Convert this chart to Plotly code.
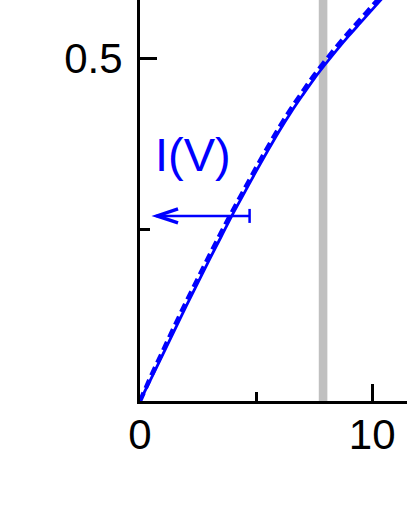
import plotly.graph_objects as go

# bias (x axis) and current values
voltage = [0, 0.5, 1, 1.5, 2, 2.5, 3, 3.5, 4, 4.5, 5, 5.5, 6, 6.5, 7, 7.5, 8, 8.5, 9, 9.5, 10, 10.5, 11]
current_measured = [0, 0.034, 0.069, 0.104, 0.139, 0.173, 0.207, 0.240, 0.273, 0.304, 0.335, 0.365,
                    0.394, 0.421, 0.446, 0.470, 0.492, 0.513, 0.533, 0.552, 0.571, 0.590, 0.609]
current_model = [0, 0.038, 0.074, 0.110, 0.145, 0.179, 0.213, 0.246, 0.278, 0.309, 0.340, 0.370,
                 0.399, 0.426, 0.451, 0.475, 0.497, 0.518, 0.538, 0.557, 0.576, 0.595, 0.614]

x_ticks = [0, 10]
x_tick_labels = ['0', '10']
y_ticks = [0.5]
y_tick_labels = ['0.5']

band_x = [7.7, 8.07]          # gray marker band
arrow_y = 0.270
arrow_tip_x = 0.69
arrow_tail_x = 4.72
label_x = 0.56
label_y = 0.36

BLUE = '#0000ff'
FONT = 'Liberation Sans, Arial, sans-serif'

fig = go.Figure()

fig.add_vrect(x0=band_x[0], x1=band_x[1], fillcolor='#c0c0c0', opacity=1,
              line_width=0, layer='below')

fig.add_trace(go.Scatter(
    x=voltage, y=current_model, mode='lines',
    line=dict(color=BLUE, width=4.5, dash='9px,5px', shape='spline'),
    showlegend=False, hoverinfo='skip'
))
fig.add_trace(go.Scatter(
    x=voltage, y=current_measured, mode='lines',
    line=dict(color=BLUE, width=2.8, shape='spline'),
    showlegend=False, hoverinfo='skip'
))

# arrow pointing to the left axis
fig.add_shape(type='line', x0=arrow_tail_x, x1=arrow_tip_x, y0=arrow_y, y1=arrow_y,
              line=dict(color=BLUE, width=2.5))
fig.add_shape(type='path', xsizemode='pixel', ysizemode='pixel',
              xanchor=arrow_tip_x, yanchor=arrow_y,
              path='M22,7 L1,0 L22,-7', line=dict(color=BLUE, width=3.5))
fig.add_shape(type='path', xsizemode='pixel', ysizemode='pixel',
              xanchor=arrow_tail_x, yanchor=arrow_y,
              path='M0,-7 L0,7', line=dict(color=BLUE, width=2.5))

fig.add_annotation(x=label_x, y=label_y, text='I(V)', showarrow=False,
                   xanchor='left', yanchor='middle',
                   font=dict(family=FONT, size=47, color=BLUE))

fig.update_layout(
    width=407, height=527,
    margin=dict(l=140, r=0, t=0, b=126),
    plot_bgcolor='white', paper_bgcolor='white',
    font=dict(family=FONT, size=42, color='black'),
    showlegend=False,
    xaxis=dict(
        range=[0, 11.5], showgrid=False, zeroline=False,
        showline=True, linecolor='black', linewidth=3,
        tickmode='array', tickvals=x_ticks, ticktext=x_tick_labels,
        ticks='inside', ticklen=17, tickwidth=3, tickcolor='black',
        ticklabelstandoff=-5,
        minor=dict(dtick=5, ticks='inside', ticklen=9, tickwidth=3, tickcolor='black', showgrid=False),
    ),
    yaxis=dict(
        range=[0, 0.585], showgrid=False, zeroline=False,
        showline=True, linecolor='black', linewidth=3,
        tickmode='array', tickvals=y_ticks, ticktext=y_tick_labels,
        ticks='inside', ticklen=17, tickwidth=3, tickcolor='black',
        ticklabelstandoff=6,
        minor=dict(dtick=0.25, ticks='inside', ticklen=10, tickwidth=3, tickcolor='black', showgrid=False),
    ),
)

# drop the browser's default page margin so the figure sits at the window corner
fig.write_html("out.html", config={'displayModeBar': False},
               post_script="document.body.style.margin='0';")
